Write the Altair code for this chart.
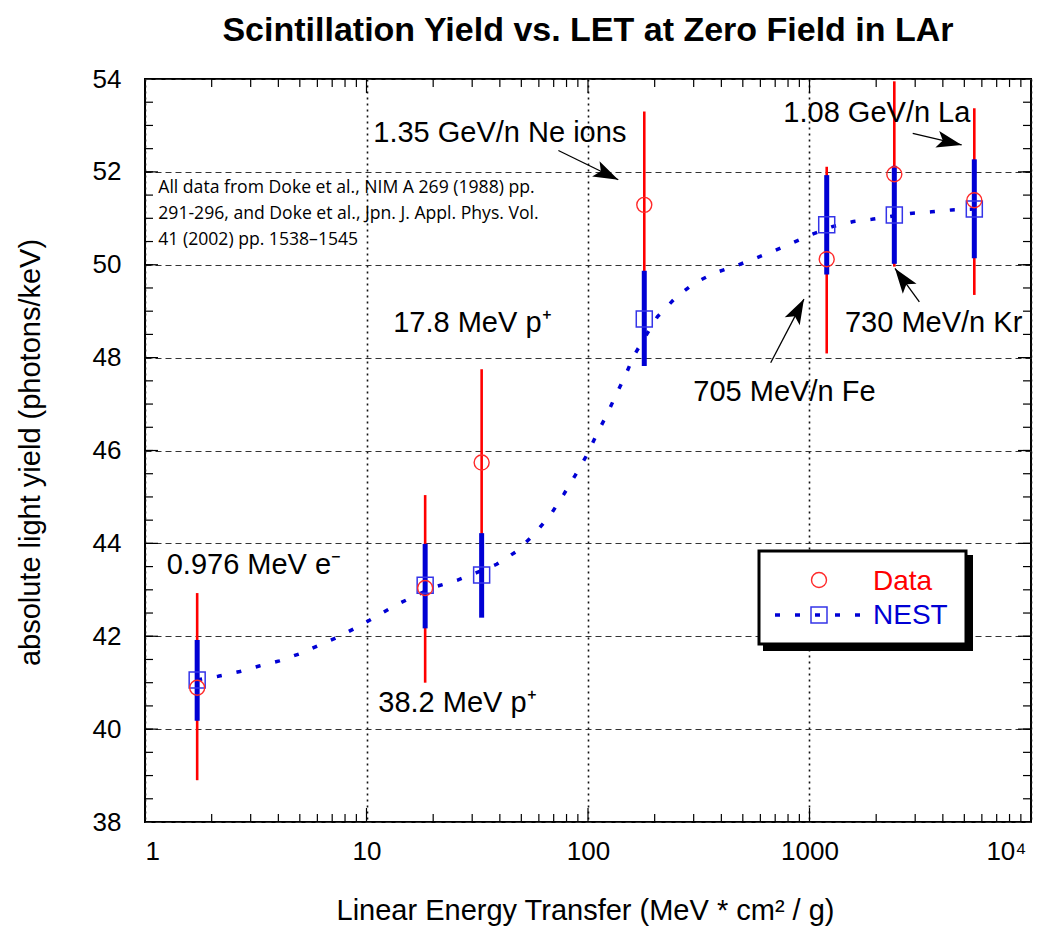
import altair as alt
import pandas as pd

# ---------------- data ----------------
let_vals = [1.72, 18.4, 33.1, 179.5, 1196, 2415, 5547]
data_y = [40.89, 43.04, 45.74, 51.29, 50.12, 51.95, 51.39]
data_lo = [38.90, 41.00, 43.73, 49.28, 48.09, 49.96, 49.35]
data_hi = [42.93, 45.04, 47.75, 53.30, 52.11, 53.95, 53.37]
nest_y = [41.06, 43.10, 43.32, 48.83, 50.86, 51.07, 51.20]
nest_lo = [40.18, 42.17, 42.40, 47.82, 49.79, 50.02, 50.14]
nest_hi = [41.92, 43.99, 44.22, 49.87, 51.93, 52.13, 52.27]

curve_let = [1.72, 2.14, 2.68, 3.28, 4.04, 4.97, 6.12, 7.41, 9.19, 11.2, 13.8, 16.9,
             20.6, 25.8, 31.4, 38.7, 47.3, 57.3, 68.5, 77.6, 87.7, 99, 109.8, 121,
             133, 147, 161, 205.6, 249.6, 303.9, 370.7, 455.8, 557, 691, 845, 1030,
             1267, 1578, 1910, 2390, 2922, 3564, 4385, 5547]
curve_y = [41.06, 41.14, 41.24, 41.36, 41.47, 41.62, 41.81, 41.98, 42.21, 42.44, 42.69,
           42.89, 43.07, 43.21, 43.37, 43.55, 43.82, 44.20, 44.65, 45.05, 45.47, 45.91,
           46.36, 46.75, 47.17, 47.60, 48.04, 48.88, 49.30, 49.61, 49.82, 49.96, 50.12,
           50.30, 50.48, 50.66, 50.82, 50.93, 50.98, 51.05, 51.11, 51.14, 51.18, 51.20]

ann_text = ["1.35 GeV/n Ne ions", "17.8 MeV p\u207a", "0.976 MeV e\u207b", "38.2 MeV p\u207a",
            "1.08 GeV/n La", "730 MeV/n Kr", "705 MeV/n Fe"]
ann_x = [10.73, 13.2, 1.253, 11.3, 762, 1446, 299]
ann_y = [52.83, 48.74, 43.53, 40.56, 53.26, 48.75, 47.27]

note_lines = ["All data from Doke et al., NIM A 269 (1988) pp.",
              "291-296, and Doke et al., Jpn. J. Appl. Phys. Vol.",
              "41 (2002) pp. 1538\u20131545"]
note_x = [1.148, 1.148, 1.148]
note_y = [51.65, 51.09, 50.53]

arrow_x0 = [73.5, 2924, 3133, 668]
arrow_y0 = [52.46, 52.83, 49.20, 47.89]
arrow_x1 = [137, 4864, 2432, 944]
arrow_y1 = [51.83, 52.58, 49.92, 49.26]
arrow_angle = [116, 103, 324, 28]

x_label_vals = [1, 10, 100, 1000, 10000]
y_label_vals = [38, 40, 42, 44, 46, 48, 50, 52, 54]
x_major_ticks = [10, 100, 1000]
x_minor_ticks = [k * 10 ** d for d in range(4) for k in range(2, 10)]
y_major_ticks = [40, 42, 44, 46, 48, 50, 52]
y_minor_ticks = [38 + 0.5 * i for i in range(1, 32)]

# ---------------- chart ----------------
W, H = 886, 743
FONT = "Liberation Sans"
RED = "#ff0000"
BLUE = "#0000d4"

pts = pd.DataFrame({"let": let_vals, "data_y": data_y, "data_lo": data_lo, "data_hi": data_hi,
                    "nest_y": nest_y, "nest_lo": nest_lo, "nest_hi": nest_hi})
curve = pd.DataFrame({"let": curve_let, "y": curve_y})
ann = pd.DataFrame({"x": ann_x, "y": ann_y, "t": ann_text})
note = pd.DataFrame({"x": note_x, "y": note_y, "t": note_lines})
arrows = pd.DataFrame({"x0": arrow_x0, "y0": arrow_y0, "x1": arrow_x1, "y1": arrow_y1,
                       "a": arrow_angle})
one = pd.DataFrame({"k": [0]})

xs = alt.Scale(type="log", domain=[1, 10000], nice=False)
ys = alt.Scale(domain=[38, 54], nice=False, zero=False)

xaxis = alt.Axis(values=x_label_vals, title="Linear Energy Transfer (MeV * cm\u00b2 / g)",
                 labelExpr="datum.value == 10000 ? '10\u2074' : format(datum.value, 'd')",
                 labelOffset={"condition": {"test": "datum.value == 10000", "value": -5},
                              "value": 0},
                 ticks=False, domain=False, grid=True, gridDash=[2, 4], gridColor="#111",
                 gridWidth=1.6, labelPadding=16, labelFontSize=26,
                 titleX=440, titleY=88, titleBaseline="middle", titleAlign="center",
                 titleFontSize=29)
yaxis = alt.Axis(values=y_label_vals, title="absolute light yield (photons/keV)",
                 ticks=False, domain=False, grid=True, gridDash=[6, 4], gridColor="#333",
                 gridWidth=1, labelPadding=24, labelFontSize=26,
                 titleX=-115, titleY=373, titleAngle=270, titleBaseline="middle",
                 titleAlign="center", titleFontSize=29)

X = lambda f: alt.X(f, type="quantitative", scale=xs, axis=xaxis)
Y = lambda f: alt.Y(f, type="quantitative", scale=ys, axis=yaxis)

base = alt.Chart(pts)

red_bars = base.mark_rule(color=RED, strokeWidth=2.6).encode(
    x=X("let"), y=Y("data_lo"), y2="data_hi")
blue_bars = base.mark_rule(color=BLUE, strokeWidth=5).encode(
    x=X("let"), y=Y("nest_lo"), y2="nest_hi")
nest_line = alt.Chart(curve).mark_line(color=BLUE, strokeWidth=3.5, strokeDash=[5, 15]).encode(
    x=X("let"), y=Y("y"))
squares = base.mark_point(shape="square", size=256, filled=False, color="#3434e8",
                          strokeWidth=1.5, opacity=1).encode(x=X("let"), y=Y("nest_y"))
circles = base.mark_point(shape="circle", size=225, filled=False, color="#ff2a2a",
                          strokeWidth=1.4, opacity=1).encode(x=X("let"), y=Y("data_y"))

ann_layer = alt.Chart(ann).mark_text(align="left", baseline="middle", fontSize=29,
                                     font=FONT, color="black").encode(
    x=X("x"), y=Y("y"), text="t:N")
note_layer = alt.Chart(note).mark_text(align="left", baseline="middle", fontSize=17.6,
                                       font="Open Sans", color="black").encode(
    x=X("x"), y=Y("y"), text="t:N")

shafts = alt.Chart(arrows).mark_rule(color="black", strokeWidth=1.3).encode(
    x=X("x0"), y=Y("y0"), x2="x1", y2="y1")
heads = alt.Chart(arrows).mark_point(
    shape="M0,0 L-0.68,2 L0,1.55 L0.68,2 Z", size=625, filled=True, color="black",
    strokeWidth=0, opacity=1).encode(x=X("x1"), y=Y("y1"), angle=alt.Angle("a:Q", scale=None))

# inward ticks on all four sides
def yticks(vals, length):
    d = pd.DataFrame({"v": vals})
    left = alt.Chart(d).mark_rule(color="black", strokeWidth=1.2).encode(
        y=Y("v"), x=alt.value(0), x2=alt.value(length))
    right = alt.Chart(d).mark_rule(color="black", strokeWidth=1.2).encode(
        y=Y("v"), x=alt.value(W - length), x2=alt.value(W))
    return left + right

def xticks(vals, length):
    d = pd.DataFrame({"v": vals})
    bottom = alt.Chart(d).mark_rule(color="black", strokeWidth=1.2).encode(
        x=X("v"), y=alt.value(H - length), y2=alt.value(H))
    top = alt.Chart(d).mark_rule(color="black", strokeWidth=1.2).encode(
        x=X("v"), y=alt.value(0), y2=alt.value(length))
    return bottom + top

ticks = yticks(y_minor_ticks, 8) + yticks(y_major_ticks, 13) + \
    xticks(x_minor_ticks, 8) + xticks(x_major_ticks, 14)

# legend box (drawn)
lg = alt.Chart(one)
shadow = lg.mark_rect(color="black").encode(
    x=alt.value(618), x2=alt.value(828), y=alt.value(476), y2=alt.value(572))
box = lg.mark_rect(fill="white", stroke="black", strokeWidth=3).encode(
    x=alt.value(614), x2=alt.value(821), y=alt.value(472), y2=alt.value(565))
lg_circle = lg.mark_point(shape="circle", size=225, filled=False, color="#ff2a2a",
                          strokeWidth=1.4, opacity=1).encode(x=alt.value(674), y=alt.value(501))
lg_dash = lg.mark_rule(color=BLUE, strokeWidth=3.5, strokeDash=[5, 15]).encode(
    x=alt.value(630), x2=alt.value(716), y=alt.value(536))
lg_square = lg.mark_point(shape="square", size=256, filled=False, color="#3434e8",
                          strokeWidth=1.5, opacity=1).encode(x=alt.value(674), y=alt.value(536))
lg_data = lg.mark_text(text="Data", align="left", baseline="middle", fontSize=28,
                       font=FONT, color=RED).encode(x=alt.value(728), y=alt.value(503))
lg_nest = lg.mark_text(text="NEST", align="left", baseline="middle", fontSize=28,
                       font=FONT, color=BLUE).encode(x=alt.value(728), y=alt.value(537))
legend = shadow + box + lg_circle + lg_dash + lg_square + lg_data + lg_nest

chart = alt.layer(
    red_bars, blue_bars, nest_line, squares, circles, ann_layer, note_layer,
    shafts, heads, ticks, legend
).properties(
    width=W, height=H,
    title=alt.TitleParams("Scintillation Yield vs. LET at Zero Field in LAr",
                          fontSize=34, fontWeight="bold", font=FONT, anchor="middle",
                          color="black", offset=18),
    autosize=alt.AutoSizeParams(type="none"),
    padding={"left": 137, "top": 71, "right": 14, "bottom": 105},
).configure_view(
    stroke="black", strokeWidth=2
).configure_axis(
    labelFont=FONT, titleFont=FONT, labelColor="black", titleColor="black",
    titleFontWeight="normal"
)

chart.save("out.html", embed_options={"renderer": "svg", "actions": False})
